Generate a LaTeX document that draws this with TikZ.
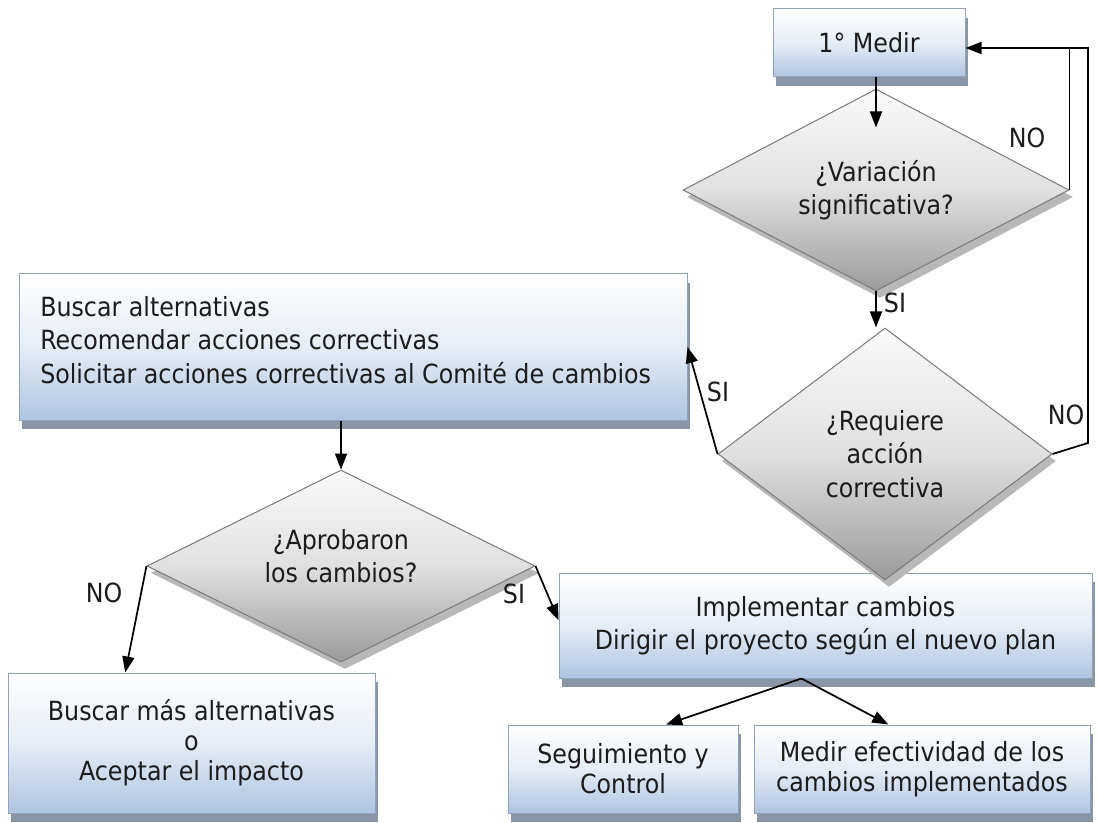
\documentclass[tikz,border=0pt]{standalone}
\usepackage{fontspec}
\setmainfont{DejaVu Sans Condensed}
\usetikzlibrary{shapes.geometric, shadows, arrows.meta, calc}

\definecolor{boxbot}{HTML}{AFC4E0}
\definecolor{boxmid}{HTML}{E6EDF6}
\definecolor{boxline}{HTML}{8FA3BF}
\definecolor{boxshadow}{HTML}{8A95A5}
\definecolor{dtop}{HTML}{FAFAFA}
\definecolor{dmid}{HTML}{E0E0E0}
\definecolor{dbot}{HTML}{9A9A9A}
\definecolor{dline}{HTML}{7A7A7A}
\definecolor{dshadow}{HTML}{B8B8B8}
\definecolor{ink}{HTML}{1C1C1C}

% one pixel of the drawing grid
\newdimen\pxu \pxu=0.75pt

\begin{document}
\begin{tikzpicture}[x=0.75pt, y=-0.75pt,
  every node/.style={font=\fontsize{19.8}{25}\selectfont, text=ink},
  procbox/.style={draw=boxline, line width=0.75pt,
    top color=white, bottom color=boxbot, middle color=boxmid,
    drop shadow={shadow xshift=3\pxu, shadow yshift=-9\pxu, fill=boxshadow, opacity=1},
    inner sep=0pt, align=center},
  decision/.style={shape=diamond, draw=dline, line width=0.75pt,
    top color=dtop, bottom color=dbot, middle color=dmid,
    drop shadow={shadow xshift=4\pxu, shadow yshift=-7\pxu, fill=dshadow, opacity=1},
    inner sep=0pt, align=center},
  tight/.style={font=\fontsize{19.8}{22.5}\selectfont},
  lab/.style={inner sep=0pt},
  link/.style={draw=black, line width=1.3pt},
  arr/.style={link, -{Triangle[length=12pt,width=9pt]}}]

\useasboundingbox (0,0) rectangle (1098,823);
\fill[white] (0,0) rectangle (1098,823);

% process boxes and decisions
\node[procbox, minimum width=192\pxu, minimum height=68\pxu] (medir) at (869,43) {1° Medir};
\node[decision, minimum width=386\pxu, minimum height=202\pxu, shape aspect=1.9] (d1) at (876,190) {¿Variación\\significativa?};

\node[procbox, minimum width=668\pxu, minimum height=146\pxu] (buscar) at (353,347) {};
\node[align=left, anchor=west, inner sep=0pt] (buscartxt) at (40,340)
  {Buscar alternativas\\Recomendar acciones correctivas\\Solicitar acciones correctivas al Comité de cambios};

\node[procbox, minimum width=533\pxu, minimum height=105\pxu] (impl) at (825.5,625.5)
  {Implementar cambios\\Dirigir el proyecto según el nuevo plan};

\node[decision, minimum width=334\pxu, minimum height=252\pxu, shape aspect=1.33] (d2) at (885,454)
  {¿Requiere\\acción\\correctiva};

\node[decision, minimum width=388\pxu, minimum height=192\pxu, shape aspect=2] (d3) at (341,566) {};
\node[align=center, inner sep=0pt] (d3txt) at (341,556) {¿Aprobaron\\los cambios?};

\node[procbox, tight, minimum width=367\pxu, minimum height=140\pxu] (mas) at (191.5,743)
  {Buscar más alternativas\\o\\Aceptar el impacto};
\node[procbox, tight, minimum width=230\pxu, minimum height=88\pxu] (seg) at (623,769)
  {Seguimiento y\\Control};
\node[procbox, tight, minimum width=336\pxu, minimum height=88\pxu] (medef) at (922,769)
  {Medir efectividad de los\\cambios implementados};

% connectors
\coordinate (d1in) at ($(d1.north)+(0,39)$);
\coordinate (loopB) at (1088,48);
\coordinate (loopC) at (1088,443);
\coordinate (fork) at ($(impl.south west)!0.455!(impl.south east)$);

\draw[arr] (medir.south -| d1.north) -- (d1in);
\draw[link] (d1.east) |- (loopB);
\draw[arr] (d2.east) -- (loopC) -- (loopB) -- (medir.east |- loopB);
\draw[arr] (d1.south) -- (d1.south |- d2.north);
\draw[arr] (d2.west) -- (buscar.east);
\draw[arr] (buscar.south -| d3.north) -- (d3.north);
\draw[arr] (d3.west) -- ($(mas.north west)!0.32!(mas.north east)$);
\draw[arr] (d3.east) -- ($(impl.north west)!0.45!(impl.south west)$);
\draw[arr] (fork) -- ($(seg.north west)!0.687!(seg.north east)$);
\draw[arr] (fork) -- ($(medef.north west)!0.40!(medef.north east)$);

% branch labels
\node[lab] (no1) at (1027,138) {NO};
\node[lab] (si1) at (895,303) {SI};
\node[lab] (si2) at (718,392) {SI};
\node[lab] (no2) at (1066,415) {NO};
\node[lab] (no3) at (104,593) {NO};
\node[lab] (si3) at (514,594) {SI};
\end{tikzpicture}
\end{document}
